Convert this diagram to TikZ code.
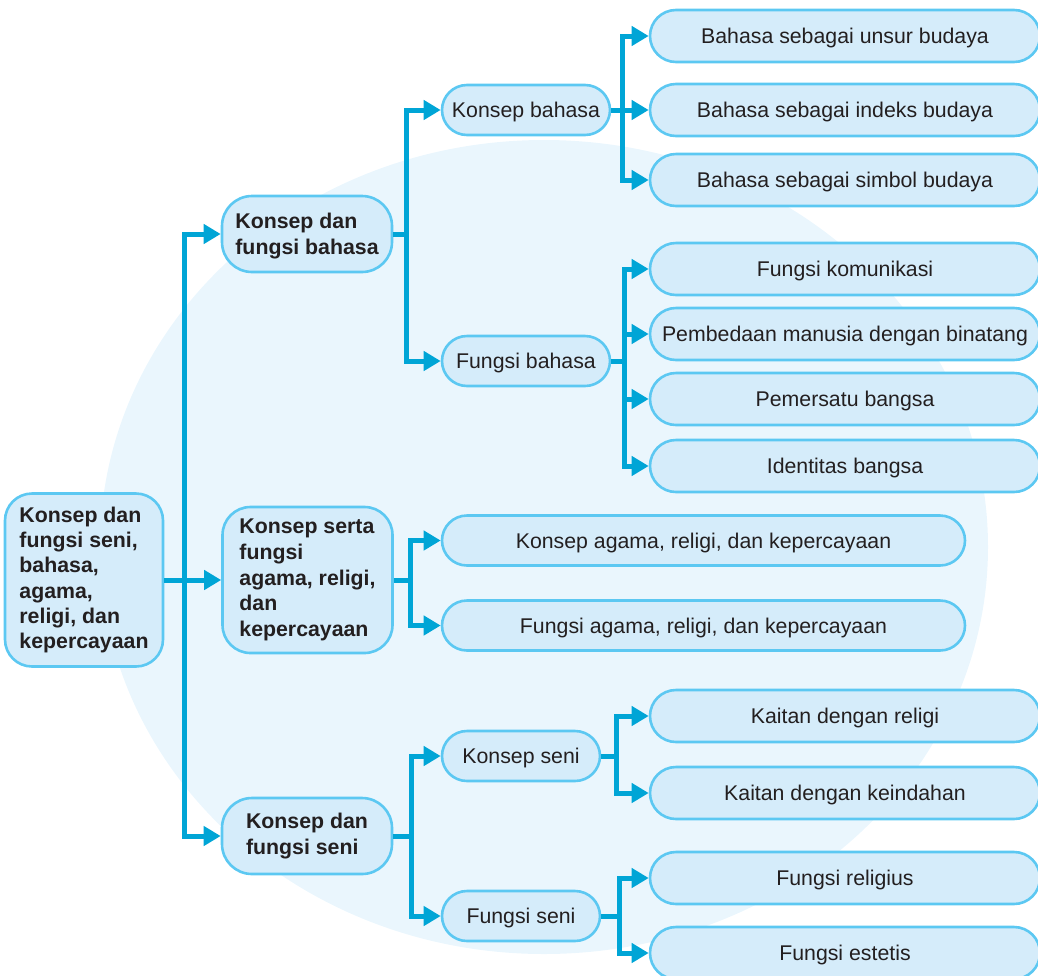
\documentclass[tikz,border=0pt]{standalone}
\usepackage{fontspec}
\setmainfont{Liberation Sans}
\usetikzlibrary{arrows.meta}

\definecolor{bgblue}{HTML}{EAF6FD}
\definecolor{boxfill}{HTML}{D5ECFA}
\definecolor{boxline}{HTML}{5CC8F2}
\definecolor{linkblue}{HTML}{00A5D6}
\definecolor{ink}{HTML}{231F20}

\tikzset{
  box/.style={draw=boxline, fill=boxfill, line width=2.6pt, text=ink, inner sep=0pt},
  topic/.style={box, align=left, minimum width=170pt,
    font=\fontsize{21.3}{25.8}\selectfont\bfseries},
  pill/.style={box, rounded corners=25pt, minimum height=50pt,
    text height=15.5pt, text depth=0pt,
    font=\fontsize{21.3}{25}\selectfont},
  leaf/.style={box, rounded corners=26pt, minimum height=52pt, minimum width=390pt,
    text height=15.5pt, text depth=0pt,
    font=\fontsize{21.3}{25}\selectfont},
  link/.style={draw=linkblue, line width=5pt, line join=miter,
    -{Triangle[length=17pt,width=19pt]}},
}

\begin{document}
\begin{tikzpicture}[x=1pt,y=-1pt]
  \clip (0,0) rectangle (1038,975);
  \useasboundingbox (0,0) rectangle (1038,975);

  % soft backdrop
  \fill[bgblue] (544,547) ellipse [x radius=444pt, y radius=407pt];

  % root
  \node[topic, rounded corners=27pt, minimum width=158pt, minimum height=173pt,
        font=\fontsize{21.3}{25.3}\selectfont\bfseries]
    (root) at (84,580) {Konsep dan\\fungsi seni,\\bahasa,\\agama,\\religi, dan\\kepercayaan};

  % first level
  \node[topic, rounded corners=30pt, minimum height=76pt, text depth=0pt] (bahasa) at (307,234)
    {Konsep dan\\fungsi bahasa};
  \node[topic, rounded corners=28pt, minimum height=146pt] (agama) at (307.5,580)
    {Konsep serta\\fungsi\\agama, religi,\\dan\\kepercayaan};
  \node[topic, rounded corners=30pt, minimum height=76pt] (seni) at (307,836)
    {Konsep dan\\fungsi seni};

  % second level
  \node[pill, minimum width=168pt] (kbahasa) at (526,110) {Konsep bahasa};
  \node[pill, minimum width=168pt] (fbahasa) at (526,361) {Fungsi bahasa};
  \node[pill, minimum width=523pt] (kagama) at (703.5,540.5) {Konsep agama, religi, dan kepercayaan};
  \node[pill, minimum width=523pt] (fagama) at (703.5,625.5) {Fungsi agama, religi, dan kepercayaan};
  \node[pill, minimum width=158pt] (kseni) at (521,756) {Konsep seni};
  \node[pill, minimum width=158pt] (fseni) at (521,916) {Fungsi seni};

  % third level
  \node[leaf] (unsur) at (845,36) {Bahasa sebagai unsur budaya};
  \node[leaf] (indeks) at (845,110) {Bahasa sebagai indeks budaya};
  \node[leaf] (simbol) at (845,180) {Bahasa sebagai simbol budaya};
  \node[leaf] (komunikasi) at (845,269) {Fungsi komunikasi};
  \node[leaf] (pembedaan) at (845,334) {Pembedaan manusia dengan binatang};
  \node[leaf] (pemersatu) at (845,399) {Pemersatu bangsa};
  \node[leaf] (identitas) at (845,466) {Identitas bangsa};
  \node[leaf] (religi) at (845,716) {Kaitan dengan religi};
  \node[leaf] (keindahan) at (845,793) {Kaitan dengan keindahan};
  \node[leaf] (religius) at (845,878) {Fungsi religius};
  \node[leaf] (estetis) at (845,953) {Fungsi estetis};

  % connectors
  \foreach \c in {bahasa,agama,seni}
    \draw[link] (root.east) -- ++(20,0) |- (\c.west);
  \foreach \c in {kbahasa,fbahasa}
    \draw[link] (bahasa.east) -- ++(13,0) |- (\c.west);
  \foreach \c in {kagama,fagama}
    \draw[link] (agama.east) -- ++(16.5,0) |- (\c.west);
  \foreach \c in {kseni,fseni}
    \draw[link] (seni.east) -- ++(18,0) |- (\c.west);
  \foreach \c in {unsur,indeks,simbol}
    \draw[link] (kbahasa.east) -- ++(11,0) |- (\c.west);
  \foreach \c in {komunikasi,pembedaan,pemersatu,identitas}
    \draw[link] (fbahasa.east) -- ++(13,0) |- (\c.west);
  \foreach \c in {religi,keindahan}
    \draw[link] (kseni.east) -- ++(15,0) |- (\c.west);
  \foreach \c in {religius,estetis}
    \draw[link] (fseni.east) -- ++(18,0) |- (\c.west);
\end{tikzpicture}
\end{document}
